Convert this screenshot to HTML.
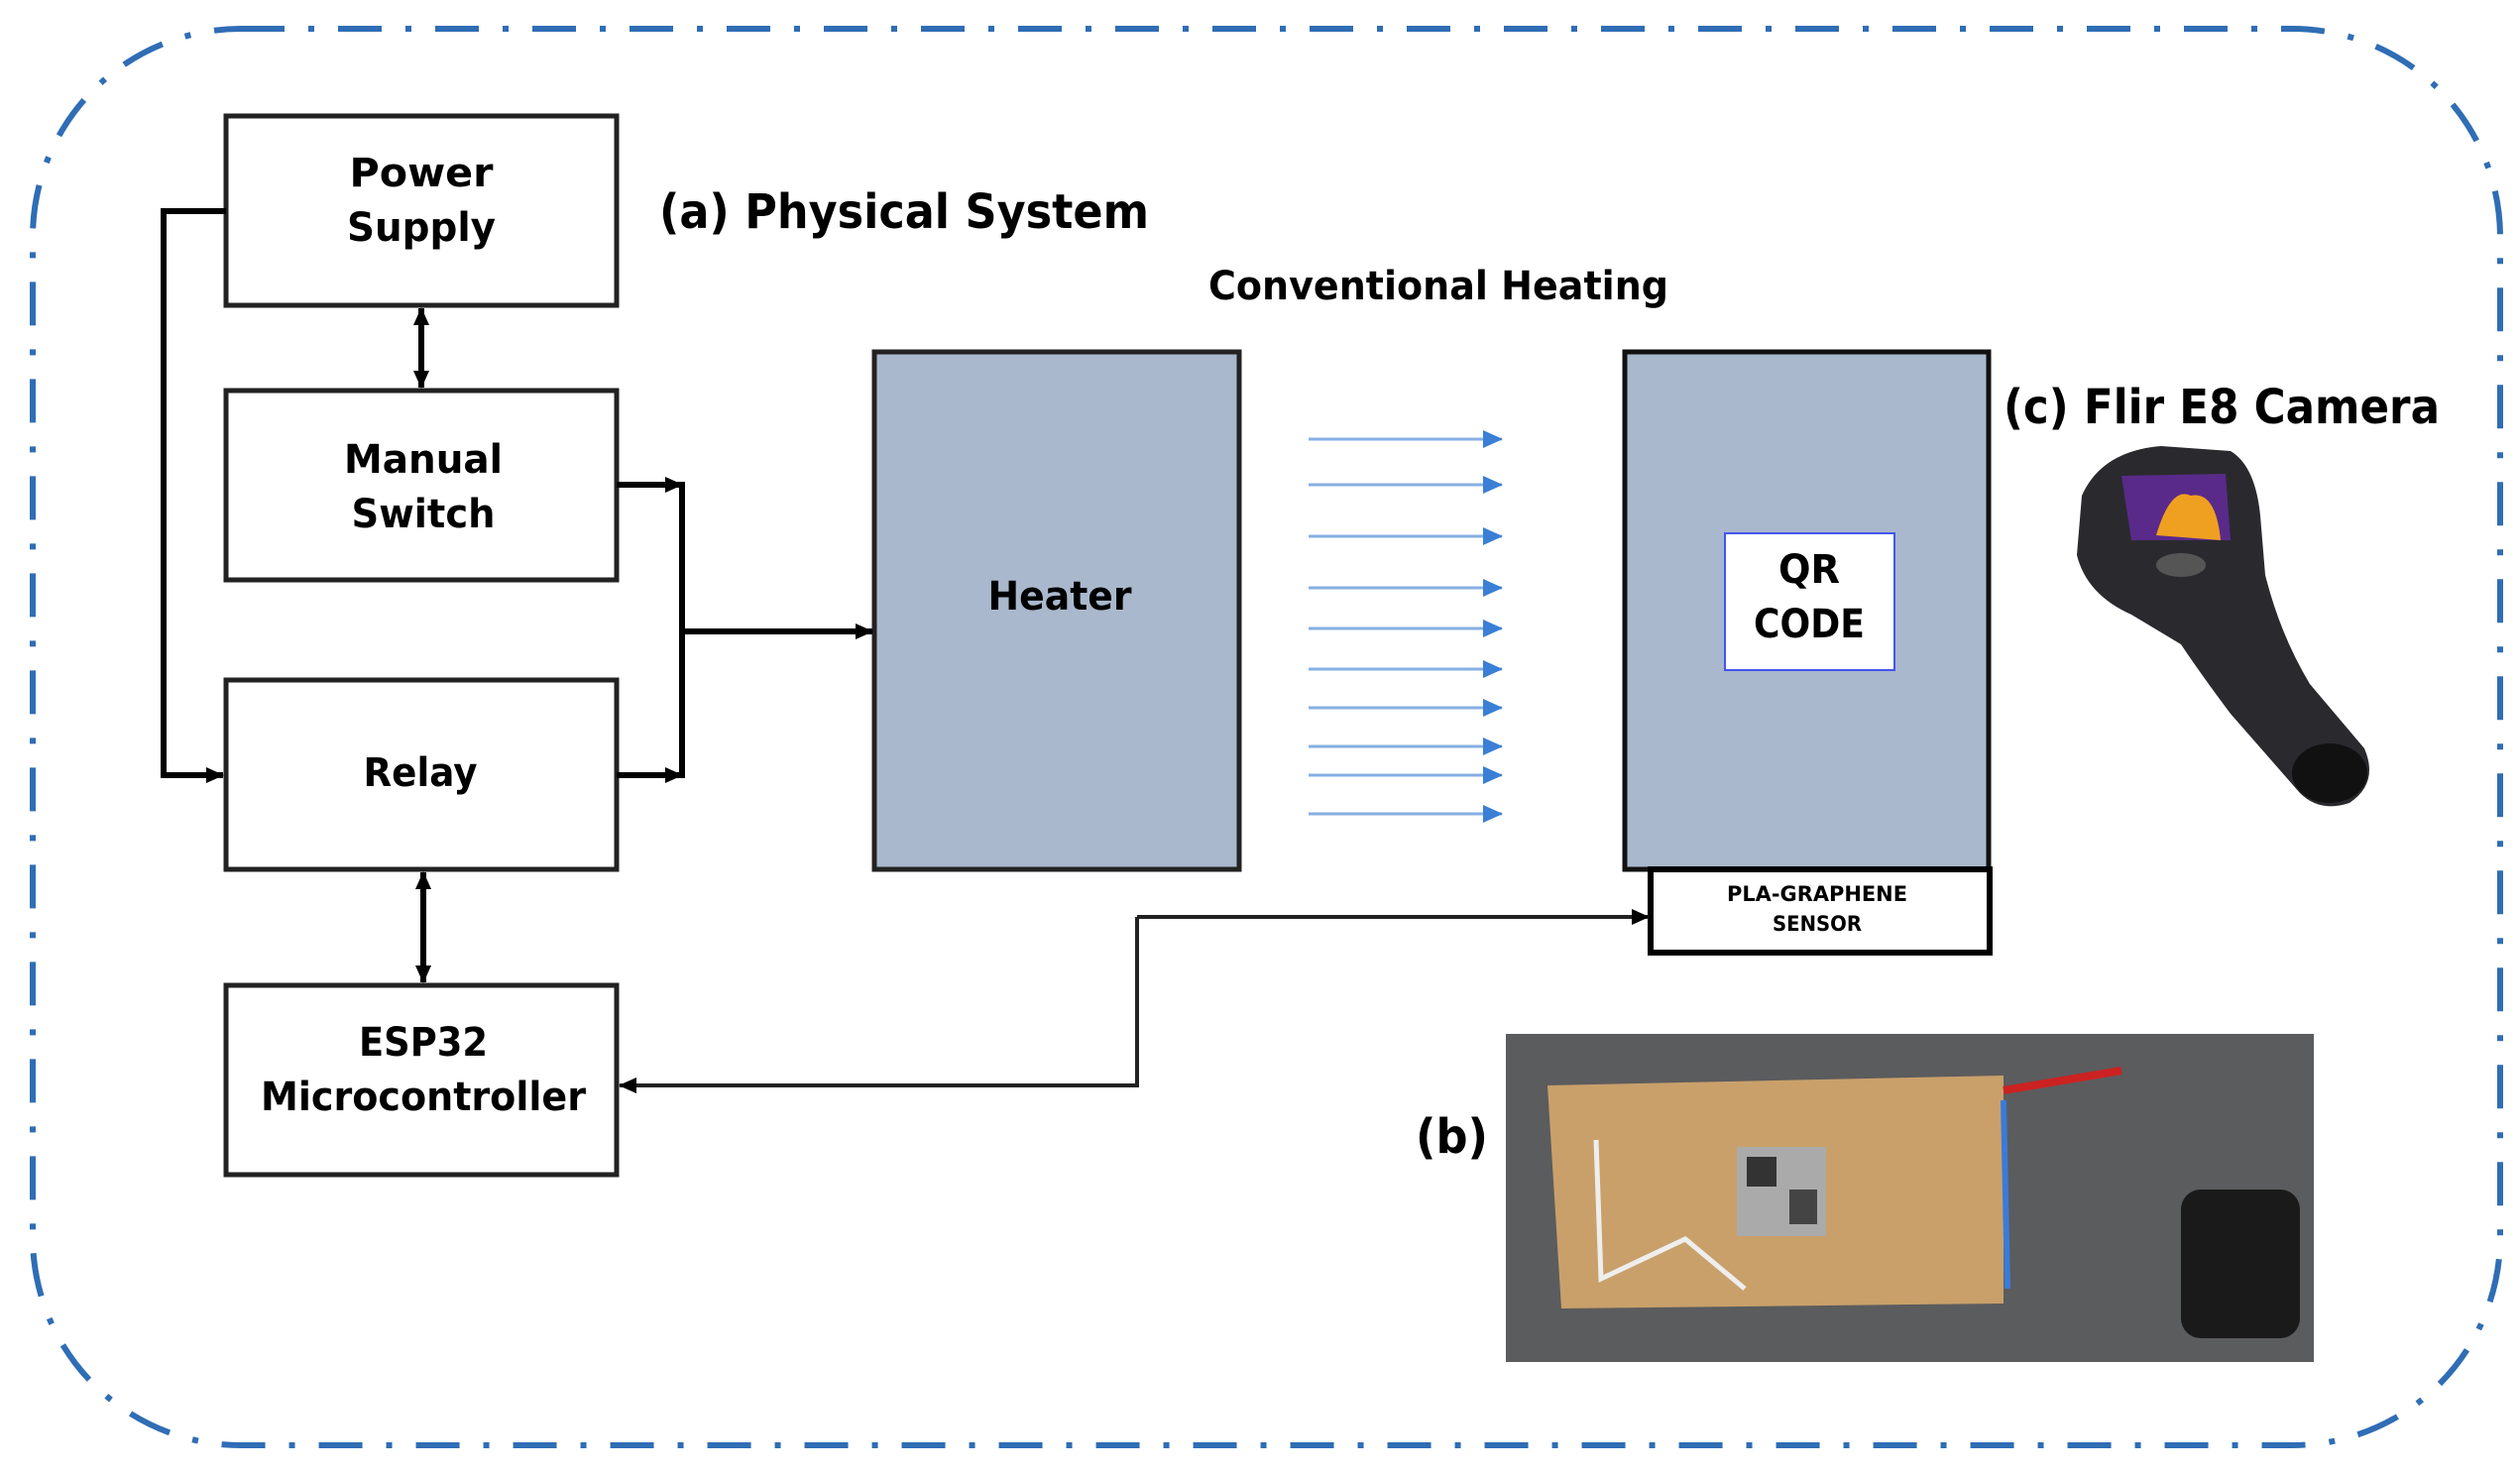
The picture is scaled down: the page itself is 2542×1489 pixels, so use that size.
<!DOCTYPE html>
<html><head><meta charset="utf-8"><style>html,body{margin:0;padding:0;background:#fff}svg{display:block}</style></head>
<body>
<svg width="2542" height="1489" viewBox="0 0 2542 1489" xmlns="http://www.w3.org/2000/svg" font-family="'DejaVu Sans', 'Liberation Sans', sans-serif" font-weight="bold">
<defs>
<marker id="ahb" markerWidth="20" markerHeight="18" refX="19" refY="9" orient="auto" markerUnits="userSpaceOnUse"><path d="M0,0 L20,9 L0,18z" fill="#3a7fd5"/></marker>
<marker id="ahk" markerWidth="18" markerHeight="16" refX="17" refY="8" orient="auto" markerUnits="userSpaceOnUse"><path d="M0,0 L18,8 L0,16z" fill="#000"/></marker>
<marker id="ahs" markerWidth="18" markerHeight="16" refX="1" refY="8" orient="auto" markerUnits="userSpaceOnUse"><path d="M18,0 L0,8 L18,16z" fill="#000"/></marker>
</defs>
<rect x="33" y="29" width="2489" height="1429" rx="210" ry="210" fill="none" stroke="#2f6db5" stroke-width="6" stroke-dasharray="44 24 6 24"/>

<g fill="#fff" stroke="#222" stroke-width="5">
<rect x="228" y="117" width="394" height="191"/>
<rect x="228" y="394" width="394" height="191"/>
<rect x="228" y="686" width="394" height="191"/>
<rect x="228" y="994" width="394" height="191"/>
</g>
<rect x="882" y="355" width="368" height="522" fill="#a9b8cc" stroke="#222" stroke-width="5"/>
<rect x="1639" y="355" width="367" height="522" fill="#a9b8cc" stroke="#111" stroke-width="5"/>
<rect x="1740" y="538" width="171" height="138" fill="#fff" stroke="#4455ee" stroke-width="2"/>
<rect x="1665" y="877" width="342" height="84" fill="#fff" stroke="#000" stroke-width="6"/>

<g stroke="#000" stroke-width="6" fill="none">
<polyline points="228,213 165,213 165,782 225,782" marker-end="url(#ahk)"/>
<line x1="425" y1="311" x2="425" y2="391" marker-end="url(#ahk)" marker-start="url(#ahs)"/>
<line x1="427" y1="880" x2="427" y2="991" marker-end="url(#ahk)" marker-start="url(#ahs)"/>
<polyline points="622,489 688,489" marker-end="url(#ahk)"/>
<polyline points="622,782 688,782" marker-end="url(#ahk)"/>
<line x1="688" y1="486" x2="688" y2="785"/>
<line x1="688" y1="637" x2="880" y2="637" marker-end="url(#ahk)"/>
</g>
<g stroke="#222" stroke-width="4" fill="none">
<polyline points="1147,925 1663,925" marker-end="url(#ahk)"/>
<polyline points="1147,925 1147,1095 625,1095" marker-end="url(#ahk)"/>
</g>

<g stroke="#86afe2" stroke-width="3">
<line x1="1320" y1="443" x2="1515" y2="443" marker-end="url(#ahb)"/>
<line x1="1320" y1="489" x2="1515" y2="489" marker-end="url(#ahb)"/>
<line x1="1320" y1="541" x2="1515" y2="541" marker-end="url(#ahb)"/>
<line x1="1320" y1="593" x2="1515" y2="593" marker-end="url(#ahb)"/>
<line x1="1320" y1="634" x2="1515" y2="634" marker-end="url(#ahb)"/>
<line x1="1320" y1="675" x2="1515" y2="675" marker-end="url(#ahb)"/>
<line x1="1320" y1="714" x2="1515" y2="714" marker-end="url(#ahb)"/>
<line x1="1320" y1="753" x2="1515" y2="753" marker-end="url(#ahb)"/>
<line x1="1320" y1="782" x2="1515" y2="782" marker-end="url(#ahb)"/>
<line x1="1320" y1="821" x2="1515" y2="821" marker-end="url(#ahb)"/>
</g>

<g fill="#000" text-anchor="middle" font-size="40">
<text x="425" y="188" textLength="145" lengthAdjust="spacingAndGlyphs">Power</text>
<text x="425" y="243" textLength="150" lengthAdjust="spacingAndGlyphs">Supply</text>
<text x="427" y="477" textLength="160" lengthAdjust="spacingAndGlyphs">Manual</text>
<text x="427" y="532" textLength="145" lengthAdjust="spacingAndGlyphs">Switch</text>
<text x="424" y="793" textLength="115" lengthAdjust="spacingAndGlyphs">Relay</text>
<text x="427" y="1065" textLength="130" lengthAdjust="spacingAndGlyphs">ESP32</text>
<text x="427" y="1120" textLength="328" lengthAdjust="spacingAndGlyphs">Microcontroller</text>
<text x="1069" y="615" textLength="145" lengthAdjust="spacingAndGlyphs">Heater</text>
<text x="1825" y="588" textLength="62" lengthAdjust="spacingAndGlyphs">QR</text>
<text x="1825" y="643" textLength="112" lengthAdjust="spacingAndGlyphs">CODE</text>
<text x="1833" y="909" font-size="21" textLength="182" lengthAdjust="spacingAndGlyphs">PLA-GRAPHENE</text>
<text x="1833" y="939" font-size="21" textLength="90" lengthAdjust="spacingAndGlyphs">SENSOR</text>
</g>
<g fill="#000" font-size="48">
<text x="665" y="230" textLength="494" lengthAdjust="spacingAndGlyphs">(a) Physical System</text>
<text x="1219" y="302" font-size="40" textLength="464" lengthAdjust="spacingAndGlyphs">Conventional Heating</text>
<text x="2021" y="427" textLength="440" lengthAdjust="spacingAndGlyphs">(c) Flir E8 Camera</text>
<text x="1428" y="1163" textLength="73" lengthAdjust="spacingAndGlyphs">(b)</text>
</g>

<g>
<path d="M2100,500 Q2120,455 2180,450 L2250,455 Q2275,470 2280,520 L2285,580 Q2300,640 2330,690 L2385,755 Q2400,790 2370,810 Q2340,820 2320,800 L2250,720 Q2220,680 2200,650 L2150,620 Q2105,600 2095,560 Z" fill="#2a2a2e"/>
<path d="M2140,480 L2245,478 L2250,545 L2150,545 Z" fill="#5a2a8a"/>
<path d="M2175,540 Q2190,490 2210,500 Q2235,495 2240,545 Z" fill="#f0a020"/>
<ellipse cx="2350" cy="780" rx="38" ry="30" fill="#111"/>
<ellipse cx="2200" cy="570" rx="25" ry="12" fill="#555"/>
</g>

<rect x="1519" y="1043" width="815" height="331" fill="#5b5c5e"/>
<path d="M1561,1095 L2021,1085 L2021,1315 L1575,1320 Z" fill="#c9a06a"/>
<path d="M1610,1150 L1615,1290 L1700,1250 L1760,1300" fill="none" stroke="#eee" stroke-width="5"/>
<rect x="1752" y="1157" width="90" height="90" fill="#aaa"/>
<rect x="1762" y="1167" width="30" height="30" fill="#333"/>
<rect x="1805" y="1200" width="28" height="35" fill="#444"/>
<path d="M2021,1100 Q2080,1090 2140,1080" stroke="#c22" stroke-width="8" fill="none"/>
<path d="M2021,1110 L2025,1300" stroke="#3b7bd8" stroke-width="6"/>
<rect x="2200" y="1200" width="120" height="150" rx="20" fill="#1a1a1a"/>
</svg>
</body></html>
